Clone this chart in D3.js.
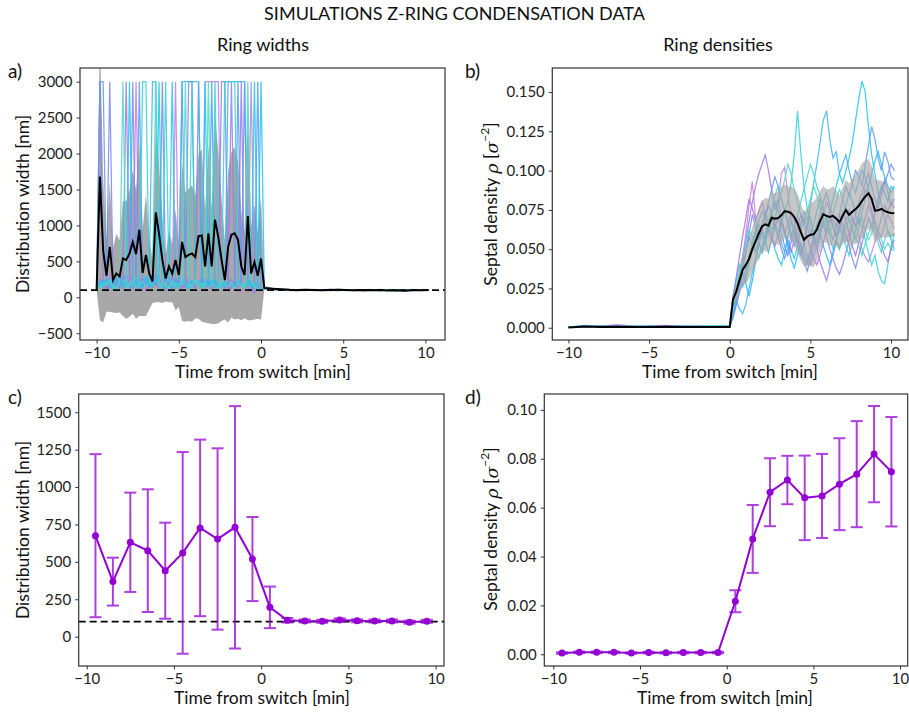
<!DOCTYPE html>
<html>
<head>
<meta charset="utf-8">
<script src="https://cdn.jsdelivr.net/npm/d3@7"></script>
<style>
body { margin: 0; background: #fff; }
svg { font-family: Lato, "Open Sans", sans-serif; }
</style>
</head>
<body>
<svg id="fig" width="909" height="716"></svg>
<script>
// ---- data ----
const timeTicks = [-10, -5, 0, 5, 10]
const runColors = ["#c77ddf", "#9a7ae6", "#7b86ee", "#5a9af0", "#3cb4f2", "#1ec4ee", "#30d2d6", "#4adcc6",
  "#b070e0", "#6f8cf0", "#28b8f4", "#3ed8d0"]

// ring widths, one row per run: t = -10 .. 0 every 0.2 min
const widthRunsBefore = [
  [100,180,240,150,320,210,130,260,190,350, 140,280,3000,220,160,90,310,250,180,120, 200,340,260,150,3000,190,110,230,280,170, 140,260,200,3000,3000,3000,3000,3000,180,120, 90,160,240,110,60,150,200,3000,130,210, 90],
  [100,3000,150,90,220,280,170,130,240,3000, 310,190,120,260,200,150,170,230,180,270, 140,100,210,290,170,250,130,190,3000,3000, 220,160,280,120,190,240,150,100,210,170, 130,3000,200,160,3000,110,240,180,60,140, 100],
  [100,250,190,140,3000,160,220,300,130,180, 240,3000,170,110,260,200,140,280,190,150, 3000,230,180,120,270,160,210,140,250,190, 130,3000,200,160,240,110,180,220,3000,3000, 170,120,210,150,240,3000,130,90,190,160, 110],
  [100,3000,3000,180,130,260,200,150,310,220, 170,120,240,3000,190,260,140,200,330,180, 150,280,260,210,130,190,3000,250,170,120, 230,180,140,260,200,3000,170,110,220,150, 190,250,130,3000,180,140,210,160,120,3000, 100],
  [100,200,140,260,180,110,230,180,170,250, 130,190,280,150,220,170,240,3000,3000,190, 140,260,180,120,210,160,3000,3000,3000,3000, 3000,3000,180,230,140,270,190,150,210,120, 3000,3000,3000,3000,3000,3000,180,240,160,210, 110],
  [100,160,230,230,190,140,270,210,120,180, 3000,250,160,200,130,290,180,140,230,3000, 170,120,260,3000,190,150,220,180,110,240, 200,160,140,3000,210,180,250,130,170,220, 150,190,120,240,180,160,210,140,3000,190, 3000],
  [100,220,150,190,260,120,150,180,240,140, 200,160,280,130,3000,3000,210,170,250,190, 140,3000,230,160,200,120,270,180,150,3000, 190,240,130,210,170,150,3000,220,140,3000, 3000,3000,3000,200,160,120,230,180,140,200, 120],
  [100,140,200,170,230,150,120,190,3000,210, 160,240,130,180,220,150,190,260,3000,140, 200,170,120,230,150,190,180,3000,210,130, 240,160,190,140,3000,200,170,110,230,180, 150,210,120,190,170,140,3000,230,160,120, 100]
]
// ring widths after the switch: t = 0.2 .. 10.2 every 0.5 min
const widthRunsAfter = [
  [125,110,95,100,88,105,98,92,110,100,96,104,90,99,108,95,100,93,102,97,100],
  [130,115,100,92,105,96,110,100,94,103,98,92,106,100,95,101,97,104,93,99,96],
  [120,108,112,98,94,102,96,108,101,93,105,99,96,102,94,100,106,95,98,101,94],
  [135,118,104,110,100,95,104,99,112,97,101,108,94,100,97,104,92,101,99,95,100],
  [128,112,106,95,108,100,93,105,98,110,94,100,104,96,102,92,99,105,96,100,98],
  [132,120,102,98,96,110,101,95,104,99,107,95,101,97,110,98,94,100,103,92,99],
  [122,106,98,104,97,92,106,102,96,105,92,103,98,108,93,101,96,90,100,97,102],
  [126,114,100,96,102,98,95,110,100,94,100,97,102,94,99,106,101,97,95,104,97]
]
const widthMeanBefore = [100,1680,650,300,700,240,330,290,540,520, 610,770,600,940,340,590,330,220,1180,880,
  520,260,430,330,520,310,770,560,590,610, 560,850,860,430,890,430,1080,840,520,240,
  700,870,890,800,430,310,1130,330,490,300, 540]
const widthSdBefore = [0,2000,1000,500,900,450,550,500,800,820, 880,1000,900,1200,600,850,500,300,1250,950,
  600,320,500,400,700,450,1100,900,920,950, 850,1150,1200,780,1250,800,1450,1200,850,550,
  1050,1150,1200,1100,750,600,1450,650,800,600, 850]
const widthMeanAfter = [130,118,112,105,102,104,100,98,103,106,100,97,101,99,100,96,98,92,97,98,100]
const widthSdAfter = [25,18,15,14,12,12,11,12,12,13,11,12,11,12,11,10,11,12,10,11,11]
const targetWidth = 100

// ring densities: t = -10 .. 0 every 1 min, then 0.2 .. 10.2 every 0.2 min
const densityRunsBefore = [
  [0.0005,0.001,0.0008,0.002,0.001,0.0006,0.0012,0.0008,0.001,0.0006,0.0008],
  [0.0003,0.0006,0.0012,0.0005,0.0009,0.0004,0.0011,0.0006,0.0004,0.0009,0.0005],
  [0.0006,0.0004,0.0009,0.0014,0.0007,0.0010,0.0005,0.0008,0.0012,0.0006,0.0007],
  [0.0002,0.0012,0.0006,0.0004,0.0008,0.0006,0.0009,0.0005,0.0007,0.0010,0.0006],
  [0.0004,0.0015,0.0007,0.0005,0.0006,0.0011,0.0004,0.0009,0.0006,0.0008,0.0009],
  [0.0005,0.0008,0.0005,0.0010,0.0004,0.0007,0.0008,0.0012,0.0005,0.0007,0.0012],
  [0.0003,0.0010,0.0006,0.0007,0.0012,0.0005,0.0006,0.0004,0.0010,0.0005,0.0015],
  [0.0004,0.0006,0.0011,0.0006,0.0005,0.0009,0.0007,0.0006,0.0008,0.0011,0.0006],
  [0.0004,0.0009,0.0006,0.0011,0.0005,0.0008,0.0015,0.0007,0.0005,0.0009,0.0006],
  [0.0006,0.0005,0.0010,0.0007,0.0009,0.0005,0.0007,0.0011,0.0006,0.0005,0.0008],
  [0.0003,0.0011,0.0005,0.0008,0.0006,0.0012,0.0006,0.0005,0.0009,0.0007,0.0010],
  [0.0005,0.0007,0.0008,0.0005,0.0010,0.0006,0.0005,0.0010,0.0007,0.0012,0.0009]
]
const densityRunsAfter = [
  [0.012,0.020,0.028,0.045,0.060,0.078,0.093,0.070,0.058,0.065, 0.072,0.060,0.055,0.068,0.080,0.098,0.102,0.085,0.070,0.062, 0.055,0.048,0.052,0.065,0.070,0.060,0.050,0.058,0.072,0.080, 0.075,0.065,0.058,0.068,0.062,0.055,0.060,0.070,0.066,0.058, 0.050,0.045,0.042,0.048,0.055,0.062,0.058,0.066,0.072,0.068, 0.063],
  [0.010,0.018,0.030,0.042,0.055,0.068,0.080,0.090,0.098,0.104, 0.110,0.100,0.088,0.075,0.082,0.070,0.060,0.066,0.074,0.068, 0.058,0.052,0.045,0.040,0.048,0.056,0.050,0.042,0.036,0.030, 0.038,0.046,0.055,0.050,0.060,0.068,0.075,0.070,0.064,0.072, 0.080,0.088,0.082,0.075,0.068,0.062,0.070,0.078,0.074,0.080, 0.076],
  [0.008,0.015,0.022,0.030,0.038,0.045,0.052,0.048,0.056,0.062, 0.058,0.066,0.072,0.064,0.058,0.050,0.044,0.050,0.058,0.064, 0.070,0.062,0.054,0.046,0.040,0.046,0.052,0.060,0.066,0.058, 0.050,0.044,0.038,0.034,0.040,0.048,0.056,0.064,0.072,0.080, 0.086,0.092,0.098,0.090,0.082,0.076,0.084,0.092,0.098,0.104, 0.100],
  [0.015,0.025,0.032,0.040,0.048,0.058,0.052,0.060,0.068,0.074, 0.070,0.080,0.088,0.096,0.090,0.082,0.075,0.068,0.060,0.052, 0.058,0.066,0.074,0.070,0.062,0.056,0.064,0.072,0.080,0.086, 0.078,0.070,0.064,0.072,0.082,0.090,0.084,0.092,0.100,0.096, 0.090,0.104,0.116,0.128,0.120,0.108,0.100,0.112,0.106,0.096, 0.094],
  [0.010,0.018,0.012,0.009,0.015,0.025,0.035,0.045,0.052,0.060, 0.055,0.048,0.056,0.066,0.062,0.054,0.048,0.058,0.068,0.060, 0.052,0.046,0.054,0.064,0.078,0.092,0.104,0.118,0.132,0.138, 0.120,0.108,0.112,0.098,0.104,0.110,0.100,0.092,0.086,0.094, 0.100,0.096,0.088,0.080,0.074,0.082,0.090,0.086,0.080,0.090, 0.088],
  [0.014,0.022,0.030,0.026,0.034,0.044,0.052,0.060,0.054,0.048, 0.056,0.064,0.058,0.050,0.044,0.040,0.048,0.056,0.050,0.044, 0.052,0.062,0.070,0.064,0.058,0.066,0.074,0.082,0.076,0.068, 0.074,0.082,0.090,0.098,0.092,0.100,0.108,0.118,0.132,0.146, 0.157,0.150,0.128,0.110,0.098,0.086,0.078,0.070,0.062,0.056, 0.050],
  [0.012,0.020,0.028,0.036,0.030,0.040,0.050,0.058,0.066,0.060, 0.054,0.062,0.070,0.064,0.058,0.066,0.074,0.080,0.092,0.110, 0.138,0.112,0.090,0.076,0.068,0.060,0.054,0.062,0.070,0.064, 0.058,0.050,0.056,0.064,0.058,0.052,0.046,0.054,0.062,0.070, 0.064,0.056,0.048,0.040,0.046,0.036,0.030,0.028,0.040,0.052, 0.060],
  [0.016,0.026,0.034,0.042,0.038,0.046,0.054,0.062,0.058,0.066, 0.074,0.068,0.062,0.070,0.078,0.086,0.094,0.104,0.098,0.088, 0.080,0.072,0.066,0.074,0.082,0.090,0.084,0.076,0.068,0.060, 0.066,0.072,0.080,0.088,0.082,0.074,0.068,0.062,0.056,0.064, 0.070,0.062,0.056,0.060,0.068,0.062,0.056,0.050,0.054,0.050, 0.049],
  [0.020,0.032,0.045,0.058,0.070,0.082,0.076,0.068,0.074,0.080, 0.072,0.064,0.058,0.052,0.060,0.068,0.062,0.054,0.048,0.056, 0.064,0.072,0.066,0.058,0.050,0.044,0.040,0.046,0.054,0.062, 0.070,0.064,0.058,0.066,0.074,0.068,0.060,0.052,0.046,0.054, 0.062,0.070,0.078,0.072,0.064,0.058,0.052,0.046,0.042,0.050, 0.056],
  [0.006,0.014,0.024,0.036,0.048,0.060,0.072,0.064,0.056,0.062, 0.070,0.078,0.072,0.064,0.070,0.060,0.052,0.046,0.054,0.062, 0.056,0.048,0.042,0.036,0.044,0.052,0.058,0.066,0.074,0.070, 0.062,0.056,0.064,0.072,0.066,0.060,0.052,0.044,0.038,0.046, 0.054,0.062,0.070,0.064,0.072,0.080,0.088,0.094,0.086,0.078, 0.082],
  [0.018,0.030,0.040,0.034,0.028,0.020,0.030,0.042,0.054,0.048, 0.056,0.064,0.072,0.080,0.074,0.066,0.060,0.052,0.044,0.038, 0.046,0.054,0.048,0.042,0.050,0.058,0.066,0.060,0.052,0.046, 0.040,0.048,0.056,0.062,0.070,0.078,0.086,0.080,0.072,0.066, 0.074,0.082,0.090,0.098,0.106,0.112,0.104,0.096,0.090,0.086, 0.090],
  [0.010,0.022,0.034,0.046,0.054,0.062,0.058,0.050,0.044,0.052, 0.060,0.068,0.076,0.084,0.090,0.082,0.074,0.066,0.058,0.064, 0.072,0.080,0.088,0.096,0.104,0.098,0.090,0.084,0.076,0.068, 0.060,0.066,0.058,0.050,0.056,0.062,0.070,0.064,0.058,0.052, 0.046,0.054,0.060,0.066,0.060,0.054,0.048,0.056,0.062,0.058, 0.060]
]
const densityMeanBefore = [0.0002,0.0008,0.0004,0.0006,0.0005,0.0004,0.0006,0.0004,0.0005,0.0004,0.0005]
const densitySdBefore = [0,0.0004,0.0003,0.0004,0.0003,0.0003,0.0003,0.0003,0.0003,0.0003,0.0004]
const densityMeanAfter = [0.018,0.023,0.030,0.037,0.040,0.044,0.050,0.055,0.060,0.0645,
  0.0658,0.065,0.070,0.0694,0.0698,0.0715,0.0742,0.0738,0.0730,0.0705,
  0.0665,0.061,0.056,0.058,0.0592,0.0595,0.0625,0.068,0.0722,0.0712,
  0.0705,0.0712,0.0695,0.0672,0.0712,0.0750,0.0718,0.0738,0.0755,0.0776,
  0.0808,0.0835,0.0855,0.082,0.0745,0.0748,0.0756,0.0744,0.0735,0.0730, 0.0728]
const densitySdAfter = [0.004,0.006,0.008,0.010,0.012,0.013,0.014,0.015,0.016,0.016,
  0.017,0.017,0.016,0.016,0.017,0.018,0.017,0.016,0.017,0.018,
  0.019,0.018,0.017,0.018,0.020,0.021,0.020,0.019,0.018,0.017,
  0.018,0.019,0.018,0.017,0.018,0.019,0.020,0.021,0.022,0.023,
  0.024,0.023,0.022,0.021,0.020,0.019,0.018,0.017,0.016,0.015, 0.015]

// one-minute bins
const binTimes = [-9.5,-8.5,-7.5,-6.5,-5.5,-4.5,-3.5,-2.5,-1.5,-0.5,0.5,1.5,2.5,3.5,4.5,5.5,6.5,7.5,8.5,9.5]
const widthBinMean = [675,368,631,575,441,560,727,653,731,519,196,110,105,103,112,106,105,105,97,103]
const widthBinSd = [545,160,332,410,321,674,590,606,810,281,139,15,10,10,10,10,10,10,10,10]
const densityBinMean = [0.0005,0.0008,0.0008,0.0008,0.0005,0.0007,0.0006,0.0007,0.0007,0.0007,
  0.0217,0.0472,0.0663,0.0713,0.0640,0.0648,0.0696,0.0737,0.0819,0.0747]
const densityBinSd = [0.0003,0.0003,0.0003,0.0003,0.0003,0.0003,0.0003,0.0003,0.0003,0.0003,
  0.0045,0.0139,0.0139,0.0099,0.0173,0.0172,0.0188,0.0217,0.0197,0.0224]

// ---- sampling grids ----
let tWidth = d3.range(51).map(i => -10 + i * 0.2).concat(d3.range(21).map(k => 0.2 + k * 0.5))
let tDensity = d3.range(11).map(i => -10 + i).concat(d3.range(1, 52).map(k => k * 0.2))

let fig = d3.select("#fig")

function frame(id, x, y, yTicks, yFormat) {
  let g = fig.append("g").attr("id", id)
  let [x0, x1] = x.range(), [y0, y1] = y.range()

  g.append("clipPath").attr("id", id + "-clip")
    .append("rect").attr("x", x0).attr("y", y1).attr("width", x1 - x0).attr("height", y0 - y1)

  g.append("g")
    .attr("transform", `translate(0,${y0})`)
    .call(d3.axisBottom(x).tickValues(timeTicks).tickFormat(d3.format("d"))
      .tickSizeInner(3.5).tickSizeOuter(0).tickPadding(4))
  g.append("g")
    .attr("transform", `translate(${x0},0)`)
    .call(d3.axisLeft(y).tickValues(yTicks).tickFormat(yFormat)
      .tickSizeInner(3.5).tickSizeOuter(0).tickPadding(4))

  g.selectAll(".domain").remove()
  g.selectAll(".tick line").attr("stroke", "#333")
  g.selectAll(".tick text").attr("fill", "#222").attr("font-size", 15)
    .attr("font-family", "Lato, sans-serif")

  let plot = g.append("g").attr("clip-path", `url(#${id}-clip)`)

  g.append("rect")
    .attr("x", x0).attr("y", y1).attr("width", x1 - x0).attr("height", y0 - y1)
    .attr("fill", "none").attr("stroke", "#333").attr("stroke-width", 1.2)
  return plot
}

function spaghetti(plot, x, y, t, runs, mean, sd, bandOnTop) {
  let line = d3.line().x((d, i) => x(t[i])).y(d => y(d))
  let band = d3.area().x((d, i) => x(t[i])).y0((d, i) => y(d - sd[i])).y1((d, i) => y(d + sd[i]))

  let drawBand = () => plot.append("path").datum(mean)
    .attr("d", band).attr("fill", "#a8a8a8").attr("opacity", bandOnTop ? 0.65 : 1)

  if (!bandOnTop) drawBand()
  plot.append("g").selectAll("path")
    .data(runs)
    .join("path")
    .attr("d", line)
    .attr("fill", "none")
    .attr("stroke", (d, i) => runColors[i % runColors.length])
    .attr("stroke-width", 1.25)
    .attr("opacity", 0.85)
  if (bandOnTop) drawBand()

  plot.append("path").datum(mean)
    .attr("d", line).attr("fill", "none").attr("stroke", "#000").attr("stroke-width", 2)
}

function binned(plot, x, y, mean, sd) {
  let c = "#9400d3"
  let bars = plot.append("g").attr("stroke", c).attr("stroke-width", 2).attr("opacity", 0.75)
  bars.selectAll(".bar").data(mean).join("line")
    .attr("x1", (d, i) => x(binTimes[i])).attr("x2", (d, i) => x(binTimes[i]))
    .attr("y1", (d, i) => y(d - sd[i])).attr("y2", (d, i) => y(d + sd[i]))
  bars.selectAll(".capHi").data(mean).join("line")
    .attr("x1", (d, i) => x(binTimes[i]) - 6).attr("x2", (d, i) => x(binTimes[i]) + 6)
    .attr("y1", (d, i) => y(d + sd[i])).attr("y2", (d, i) => y(d + sd[i]))
  bars.selectAll(".capLo").data(mean).join("line")
    .attr("x1", (d, i) => x(binTimes[i]) - 6).attr("x2", (d, i) => x(binTimes[i]) + 6)
    .attr("y1", (d, i) => y(d - sd[i])).attr("y2", (d, i) => y(d - sd[i]))

  plot.append("path").datum(mean)
    .attr("d", d3.line().x((d, i) => x(binTimes[i])).y(d => y(d)))
    .attr("fill", "none").attr("stroke", c).attr("stroke-width", 2)
  plot.append("g").selectAll("circle").data(mean).join("circle")
    .attr("cx", (d, i) => x(binTimes[i])).attr("cy", d => y(d)).attr("r", 3.5).attr("fill", c)
}

function targetLine(plot, x, y) {
  plot.append("line")
    .attr("x1", x.range()[0]).attr("x2", x.range()[1])
    .attr("y1", y(targetWidth)).attr("y2", y(targetWidth))
    .attr("stroke", "#000").attr("stroke-width", 1.8).attr("stroke-dasharray", "7,4")
}

// a) widths, per run
let xA = d3.scaleLinear().domain([-11.01, 11.19]).range([80, 445])
let yA = d3.scaleLinear().domain([-594, 3190]).range([340, 68])
let pA = frame("pa", xA, yA, d3.range(-500, 3001, 500), d3.format("d"))
spaghetti(pA, xA, yA, tWidth,
  widthRunsBefore.map((r, i) => r.concat(widthRunsAfter[i])),
  widthMeanBefore.concat(widthMeanAfter), widthSdBefore.concat(widthSdAfter), false)
targetLine(pA, xA, yA)

// b) densities, per run
let xB = d3.scaleLinear().domain([-11, 11.05]).range([552.3, 908])
let yB = d3.scaleLinear().domain([-0.0078, 0.1653]).range([340, 68])
let pB = frame("pb", xB, yB, d3.range(0, 0.151, 0.025), d3.format(".3f"))
spaghetti(pB, xB, yB, tDensity,
  densityRunsBefore.map((r, i) => r.concat(densityRunsAfter[i])),
  densityMeanBefore.concat(densityMeanAfter), densitySdBefore.concat(densitySdAfter), true)

// c) widths, binned
let xC = d3.scaleLinear().domain([-10.46, 10.48]).range([78.7, 444])
let yC = d3.scaleLinear().domain([-196, 1622]).range([666, 394])
let pC = frame("pc", xC, yC, d3.range(0, 1501, 250), d3.format("d"))
targetLine(pC, xC, yC)
binned(pC, xC, yC, widthBinMean, widthBinSd)

// d) densities, binned
let xD = d3.scaleLinear().domain([-10.52, 10.44]).range([544.3, 907.7])
let yD = d3.scaleLinear().domain([-0.0048, 0.1065]).range([666, 394])
let pD = frame("pd", xD, yD, d3.range(0, 0.101, 0.02), d3.format(".2f"))
binned(pD, xD, yD, densityBinMean, densityBinSd)

// ---- text ----
let txt = (x, y, s, size, anchor) => fig.append("text")
  .attr("x", x).attr("y", y).attr("font-size", size)
  .attr("text-anchor", anchor || "middle").attr("fill", "#111").text(s)

txt(454.5, 20, "SIMULATIONS Z-RING CONDENSATION DATA", 18)
txt(263, 51, "Ring widths", 18)
txt(718, 51, "Ring densities", 18)
txt(8, 78, "a)", 19, "start")
txt(465, 78, "b)", 19, "start")
txt(8, 404, "c)", 19, "start")
txt(465, 404, "d)", 19, "start")
txt(263, 378, "Time from switch [min]", 17.5)
txt(730, 378, "Time from switch [min]", 17.5)
txt(262, 704, "Time from switch [min]", 17.5)
txt(725, 704, "Time from switch [min]", 17.5)

function yLabel(x, y, parts) {
  let t = fig.append("text")
    .attr("transform", `translate(${x},${y}) rotate(-90)`)
    .attr("text-anchor", "middle").attr("dominant-baseline", "middle")
    .attr("font-size", 17.5).attr("fill", "#111")
  if (typeof parts === "string") { t.text(parts); return }
  t.append("tspan").text("Septal density ")
  t.append("tspan").attr("font-style", "italic").attr("font-family", "DejaVu Serif").text("ρ")
  t.append("tspan").text(" [")
  t.append("tspan").attr("font-style", "italic").attr("font-family", "DejaVu Serif").text("σ")
  t.append("tspan").attr("font-size", 12).attr("dy", -7).text("−2")
  t.append("tspan").attr("dy", 7).text("]")
}
yLabel(25, 204, "Distribution width [nm]")
yLabel(493, 204, null)
yLabel(25, 530, "Distribution width [nm]")
yLabel(493, 529, null)
</script>
</body>
</html>
